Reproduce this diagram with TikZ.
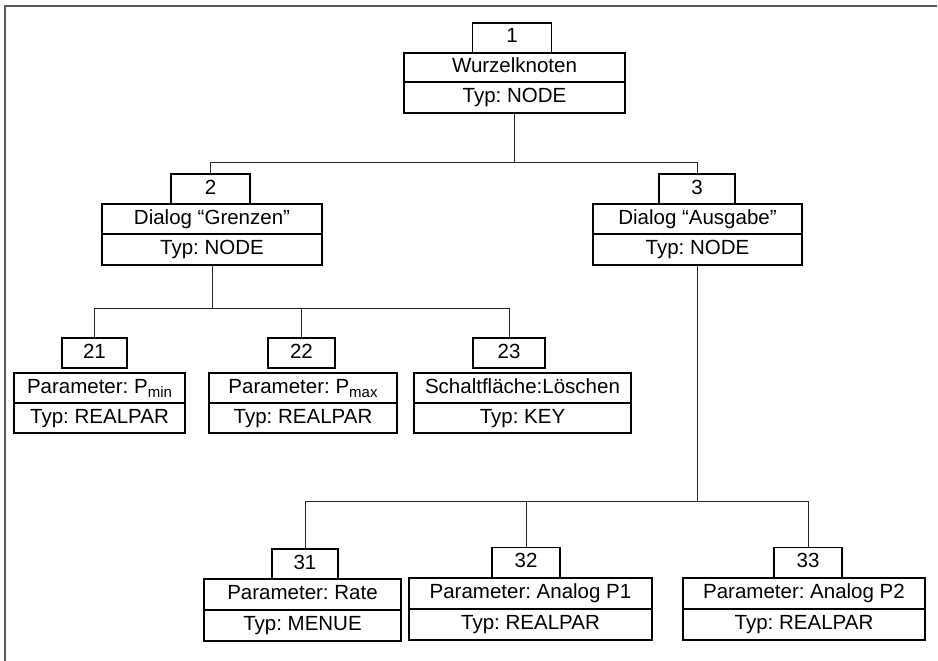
\documentclass[tikz,border=0pt]{standalone}
\usepackage{fontspec}
\setmainfont{Liberation Sans}
\usepackage{tikz}
\usetikzlibrary{calc,positioning}
\frenchspacing

\newcommand{\Psub}[1]{P\raisebox{-0.45ex}{\fontsize{15}{15}\selectfont #1}}

\begin{document}
\begin{tikzpicture}[x=1pt,y=-1pt,
		font=\fontsize{20.5}{24}\selectfont,
		box/.style={draw,line width=1.3pt,inner sep=0pt,outer sep=0pt,
			minimum height=30pt,text height=14pt,text depth=4pt,align=center},
		sepline/.style={line width=2.4pt},
		conn/.style={line width=0.9pt,draw=black!85},
		frameline/.style={line width=2.4pt,draw=black!65}]
		\useasboundingbox (0,0) rectangle (938,661);
		
		% Frame
		\draw[frameline] (5,661) -- (5,6) -- (937,6);
		
		% Root
		\node[box,minimum width=79pt] (n1) at (512,38) {1};
		\node[box,minimum width=221pt,minimum height=29pt] (t1) at (514.5,67.5) {Wurzelknoten};
		\node[box,minimum width=221pt,minimum height=31pt,below=0pt of t1] (y1) {Typ: NODE};
		\draw[sepline] (t1.south west) -- (t1.south east);
		
		% Dialog 2
		\node[box,minimum width=79pt] (n2) at (210.5,189) {2};
		\node[box,minimum width=220pt] (t2) at (212,219) {Dialog “Grenzen”};
		\node[box,minimum width=220pt,minimum height=31pt,below=0pt of t2] (y2) {Typ: NODE};
		\draw[sepline] (t2.south west) -- (t2.south east);
		
		% Dialog 3
		\node[box,minimum width=76pt] (n3) at (697,189) {3};
		\node[box,minimum width=209pt] (t3) at (697.5,219) {Dialog “Ausgabe”};
		\node[box,minimum width=209pt,minimum height=31pt,below=0pt of t3] (y3) {Typ: NODE};
		\draw[sepline] (t3.south west) -- (t3.south east);
		
		% Children of 2
		\node[box,minimum width=65pt] (n21) at (94.5,353) {21};
		\node[box,minimum width=171pt] (t21) at (99.5,388) {Parameter: \Psub{min}};
		\node[box,minimum width=171pt,below=0pt of t21] (y21) {Typ: REALPAR};
		\draw[sepline] (t21.south west) -- (t21.south east);
		
		\node[box,minimum width=67pt] (n22) at (301.5,353) {22};
		\node[box,minimum width=188pt] (t22) at (303,388) {Parameter: \Psub{max}};
		\node[box,minimum width=188pt,below=0pt of t22] (y22) {Typ: REALPAR};
		\draw[sepline] (t22.south west) -- (t22.south east);
		
		\node[box,minimum width=72pt] (n23) at (509,353) {23};
		\node[box,minimum width=217pt] (t23) at (522.5,388) {Schaltfläche:Löschen};
		\node[box,minimum width=217pt,below=0pt of t23] (y23) {Typ: KEY};
		\draw[sepline] (t23.south west) -- (t23.south east);
		
		% Children of 3
		\node[box,minimum width=66pt] (n31) at (305,564) {31};
		\node[box,minimum width=197pt,minimum height=31pt] (t31) at (302.5,594.5) {Parameter: Rate};
		\node[box,minimum width=197pt,minimum height=31pt,below=0pt of t31] (y31) {Typ: MENUE};
		\draw[sepline] (t31.south west) -- (t31.south east);
		
		\node[box,minimum width=68pt] (n32) at (526,562.5) {32};
		\node[box,minimum width=243pt,minimum height=31pt] (t32) at (530.5,593.5) {Parameter: Analog P1};
		\node[box,minimum width=243pt,minimum height=31pt,below=0pt of t32] (y32) {Typ: REALPAR};
		\draw[sepline] (t32.south west) -- (t32.south east);
		
		\node[box,minimum width=68pt] (n33) at (808,562.5) {33};
		\node[box,minimum width=242pt,minimum height=31pt] (t33) at (804,593.5) {Parameter: Analog P2};
		\node[box,minimum width=242pt,minimum height=31pt,below=0pt of t33] (y33) {Typ: REALPAR};
		\draw[sepline] (t33.south west) -- (t33.south east);
		
		% Connectors
		\coordinate (b1) at ($(y1.south)+(0,49)$);
		\coordinate (b2) at ($(y2.south)+(0,43)$);
		\coordinate (b3) at ($(y3.south)+(0,236)$);
		\draw[conn] (y1.south) -- (b1);
		\draw[conn] (y2.south) -- (b2);
		\draw[conn] (y3.south) -- (b3);
		\foreach \k in {2,3} \draw[conn] (b1) -| (n\k.north);
		\foreach \k in {21,22,23} \draw[conn] (b2) -| (n\k.north);
		\foreach \k in {31,32,33} \draw[conn] (b3) -| (n\k.north);
\end{tikzpicture}
\end{document}
